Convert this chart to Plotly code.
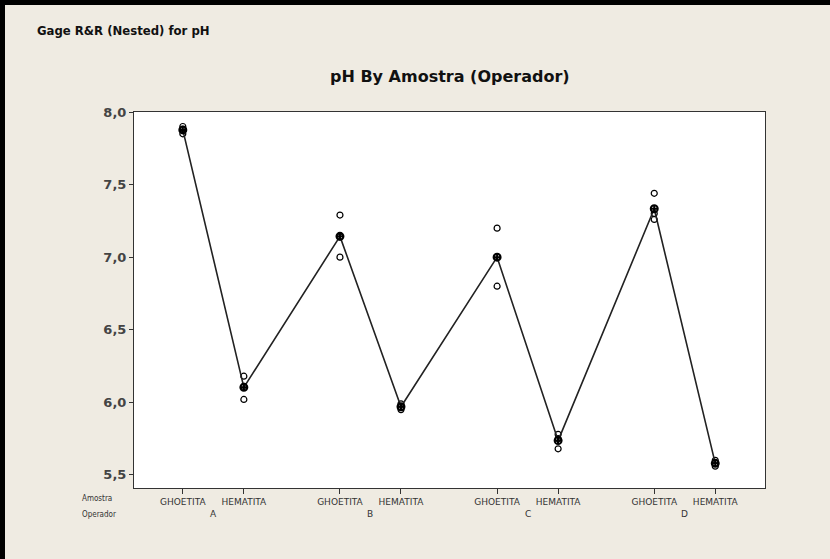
import plotly.graph_objects as go

operators = ["A", "B", "C", "D"]
samples = ["GHOETITA", "HEMATITA"]

# measurements per operator / sample (3 replicates)
ph_values = {
    ("A", "GHOETITA"): [7.90, 7.88, 7.85],
    ("A", "HEMATITA"): [6.18, 6.11, 6.02],
    ("B", "GHOETITA"): [7.29, 7.14, 7.00],
    ("B", "HEMATITA"): [5.99, 5.97, 5.95],
    ("C", "GHOETITA"): [7.20, 7.00, 6.80],
    ("C", "HEMATITA"): [5.78, 5.75, 5.68],
    ("D", "GHOETITA"): [7.44, 7.30, 7.26],
    ("D", "HEMATITA"): [5.60, 5.58, 5.56],
}

y_ticks = [5.5, 6.0, 6.5, 7.0, 7.5, 8.0]

GROUP_STEP = 2.575

xs_pts, ys_pts, xs_mean, ys_mean, tick_pos, tick_txt = [], [], [], [], [], []
group_centers = []
for g, op in enumerate(operators):
    for i, s in enumerate(samples):
        x = g * GROUP_STEP + i
        vals = ph_values[(op, s)]
        xs_pts += [x] * len(vals)
        ys_pts += vals
        xs_mean.append(x)
        ys_mean.append(sum(vals) / len(vals))
        tick_pos.append(x)
        tick_txt.append(s)
    group_centers.append(g * GROUP_STEP + 0.5)

# plot area in pixels
L, R, T, B = 134, 765, 112, 488
W, H = 830, 559


def px(x):
    return (x - L) / (R - L)


def py(y):
    return (B - y) / (B - T)


fig = go.Figure()
fig.add_trace(go.Scatter(
    x=xs_pts, y=ys_pts, mode="markers",
    marker=dict(symbol="circle-open", size=6, color="black", line=dict(width=1.2)),
    showlegend=False, hoverinfo="skip"))
fig.add_trace(go.Scatter(
    x=xs_mean, y=ys_mean, mode="lines+markers",
    line=dict(color="#222222", width=1.6),
    marker=dict(symbol="circle-cross-open", size=7, color="black", line=dict(width=2)),
    showlegend=False))

fig.update_layout(
    width=W, height=H,
    paper_bgcolor="#EFEBE2", plot_bgcolor="white",
    separators=",.",
    margin=dict(l=L, r=W - R, t=T, b=H - B),
    font=dict(family="DejaVu Sans Condensed", color="#333333"),
)

for xc, op in zip(group_centers, operators):
    fig.add_annotation(x=xc, y=py(514), xref="x", yref="paper", text=op,
                       showarrow=False, yanchor="middle",
                       font=dict(size=9, color="#333333", family="DejaVu Sans"))
fig.add_annotation(x=px(80), y=py(498), xref="paper", yref="paper", text="Amostra",
                   showarrow=False, yanchor="middle", font=dict(size=8, color="#333333"))
fig.add_annotation(x=px(80), y=py(514), xref="paper", yref="paper", text="Operador",
                   showarrow=False, yanchor="middle", font=dict(size=8, color="#333333"))
fig.add_annotation(x=px(35), y=py(30), xref="paper", yref="paper",
                   text="<b>Gage R&amp;R (Nested) for pH</b>", xanchor="left",
                   showarrow=False, yanchor="middle", font=dict(size=13, color="#111111"))
fig.add_annotation(x=px(450), y=py(76), xref="paper", yref="paper",
                   text="<b>pH By Amostra (Operador)</b>", xanchor="center",
                   showarrow=False, yanchor="middle",
                   font=dict(size=16, color="#111111", family="DejaVu Sans"))

fig.update_xaxes(range=[-0.8, 9.54], tickvals=tick_pos, ticktext=tick_txt,
                 tickfont=dict(size=9, color="#333333", family="DejaVu Sans"),
                 ticks="outside", ticklen=5, tickcolor="#333333",
                 showline=True, linecolor="#333333", linewidth=1, mirror=True,
                 showgrid=False, zeroline=False)
fig.update_yaxes(range=[5.41, 8.0], tickvals=y_ticks, tickformat=".1f",
                 tickfont=dict(size=13, color="#444444", family="DejaVu Sans", weight="bold"),
                 ticks="outside", ticklen=4, tickcolor="#333333",
                 showline=True, linecolor="#333333", linewidth=1, mirror=True,
                 showgrid=False, zeroline=False)

# window frame (top and left black border)
fig.add_shape(type="rect", xref="paper", yref="paper",
              x0=px(0), x1=px(W), y0=py(5), y1=py(0),
              line=dict(width=0), fillcolor="black", layer="below")
fig.add_shape(type="rect", xref="paper", yref="paper",
              x0=px(0), x1=px(5), y0=py(H), y1=py(0),
              line=dict(width=0), fillcolor="black", layer="below")

fig.write_html("out.html", config={"displayModeBar": False},
               post_script="document.body.style.margin='0';")
